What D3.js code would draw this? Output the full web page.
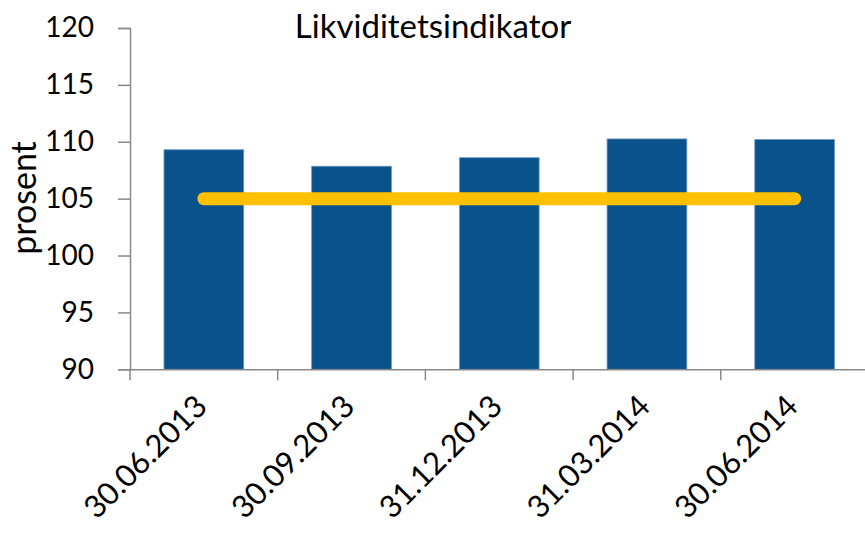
<!DOCTYPE html>
<html lang="no">
  <head>
    <meta charset="UTF-8" />
    <title>Likviditetsindikator</title>
    <style>
      body {
        margin: 0;
        background: #fff;
      }
      svg {
        display: block;
        font-family: Lato, 'Open Sans', sans-serif;
      }
    </style>
  </head>
  <body>
    <script src="https://cdn.jsdelivr.net/npm/d3@7/dist/d3.min.js"></script>
    <svg width="865" height="537"></svg>
    <script>
      // data
      const dates = ['30.06.2013', '30.09.2013', '31.12.2013', '31.03.2014', '30.06.2014'];
      const values = [109.3, 107.85, 108.6, 110.25, 110.2];
      const refLevel = [105, 105, 105, 105, 105];
      const yTicks = [90, 95, 100, 105, 110, 115, 120];

      const svg = d3.select('svg');
      const axisColor = '#888';

      const x = d3.scaleBand().domain(dates).range([130, 868.5]).padding(0);
      const y = d3.scaleLinear().domain([90, 120]).range([369.3, 28]);
      const barW = x.step() * 0.54;

      // bars
      svg
        .append('g')
        .selectAll('rect')
        .data(dates)
        .join('rect')
        .attr('x', (d) => x(d) + (x.bandwidth() - barW) / 2)
        .attr('y', (d, i) => y(values[i]))
        .attr('width', barW)
        .attr('height', (d, i) => y(90) - y(values[i]))
        .attr('fill', '#0A528B')
        .attr('stroke', '#6E9AC4')
        .attr('stroke-width', 0.8);

      // y axis
      const yAxis = svg
        .append('g')
        .attr('transform', 'translate(130,0)')
        .call(d3.axisLeft(y).tickValues(yTicks).tickSize(12).tickPadding(24).tickSizeOuter(12));
      yAxis.select('.domain').attr('stroke', axisColor).attr('stroke-width', 1.5);
      yAxis.selectAll('line').attr('stroke', axisColor).attr('stroke-width', 1.5);
      yAxis
        .selectAll('text')
        .attr('font-size', 28)
        .attr('fill', '#000')
        .attr('font-family', 'Lato, sans-serif');

      // x axis
      const xAxis = svg
        .append('g')
        .attr('transform', 'translate(0,' + y(90) + ')')
        .call(d3.axisBottom(x).tickSize(0).tickSizeOuter(0).tickFormat(''));
      xAxis.select('.domain').attr('stroke', axisColor).attr('stroke-width', 1.5);
      // category separators
      xAxis
        .selectAll('.sep')
        .data(dates)
        .join('line')
        .attr('class', 'sep')
        .attr('x1', (d) => x(d))
        .attr('x2', (d) => x(d))
        .attr('y1', 0)
        .attr('y2', 11)
        .attr('stroke', axisColor)
        .attr('stroke-width', 1.5);

      svg
        .append('g')
        .selectAll('text')
        .data(dates)
        .join('text')
        .attr('transform', (d) => 'translate(' + (x(d) + x.bandwidth() / 2 + 5) + ',' + (y(90) + 39) + ') rotate(-45)')
        .attr('text-anchor', 'end')
        .attr('font-size', 31)
        .attr('fill', '#000')
        .text((d) => d);

      // reference line
      const line = d3
        .line()
        .x((d, i) => x(dates[i]) + x.bandwidth() / 2)
        .y((d) => y(d));
      svg
        .append('path')
        .datum(refLevel)
        .attr('d', line)
        .attr('fill', 'none')
        .attr('stroke', '#FFC000')
        .attr('stroke-width', 13)
        .attr('stroke-linecap', 'round');

      // titles
      svg
        .append('text')
        .attr('x', 433)
        .attr('y', 38)
        .attr('text-anchor', 'middle')
        .attr('font-size', 33)
        .text('Likviditetsindikator');

      svg
        .append('text')
        .attr('transform', 'translate(36,198) rotate(-90)')
        .attr('text-anchor', 'middle')
        .attr('font-size', 34)
        .text('prosent');
    </script>
  </body>
</html>
